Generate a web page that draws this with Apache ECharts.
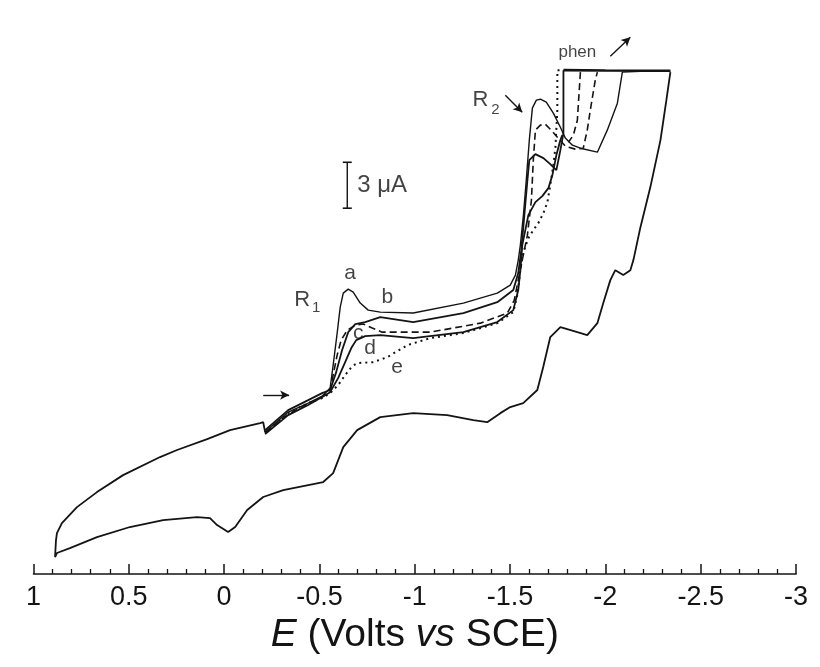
<!DOCTYPE html>
<html>
<head>
<meta charset="utf-8">
<script src="https://cdn.jsdelivr.net/npm/echarts@6/dist/echarts.min.js"></script>
<style>
  html, body { margin: 0; padding: 0; background: #fff; }
  #chart { width: 820px; height: 667px; }
</style>
</head>
<body>
<div id="chart"></div>
<script>
// potential E (V vs SCE), current I (uA, arbitrary zero)
const xTicks = [1, 0.5, 0, -0.5, -1, -1.5, -2, -2.5, -3];

// scan a: R1 peak, big R2 peak, runs into the overload plateau
const scanA = [
  [-0.215, 9.27], [-0.336, 10.58], [-0.441, 11.17], [-0.514, 11.62], [-0.556, 12.15],
  [-0.572, 13.65], [-0.593, 15.74], [-0.609, 17.44], [-0.625, 18.35], [-0.651, 18.61],
  [-0.677, 18.42], [-0.714, 17.70], [-0.756, 17.24], [-0.819, 17.11], [-0.992, 17.05],
  [-1.255, 17.70], [-1.433, 18.35], [-1.501, 18.87], [-1.528, 19.53], [-1.543, 20.51],
  [-1.554, 21.49], [-1.570, 23.45], [-1.585, 25.73], [-1.601, 28.35], [-1.617, 30.44],
  [-1.638, 30.96], [-1.659, 31.02], [-1.690, 30.83], [-1.727, 30.11], [-1.764, 29.19],
  [-1.790, 28.48], [-1.827, 28.02], [-1.869, 27.82], [-1.958, 27.56], [-2.010, 29.00],
  [-2.063, 30.76], [-2.089, 32.79], [-2.184, 32.85], [-2.341, 32.85]
];

// overload plateau where the current is clipped
const plateau = [[-1.780, 32.92], [-2.000, 32.90], [-2.341, 32.88]];

// return sweep of the full scan, back to +0.9 V and round to the start
const scanReturn = [
  [-2.341, 32.79], [-2.320, 30.96], [-2.289, 28.35], [-2.236, 25.28], [-2.184, 22.66],
  [-2.147, 20.51], [-2.131, 19.85], [-2.094, 19.53], [-2.052, 19.85], [-2.026, 19.20],
  [-1.989, 17.70], [-1.958, 16.39], [-1.905, 15.61], [-1.853, 15.80], [-1.764, 16.13],
  [-1.711, 15.48], [-1.674, 13.52], [-1.643, 12.02], [-1.569, 11.17], [-1.501, 10.91],
  [-1.449, 10.51], [-1.380, 9.92], [-1.307, 10.06], [-1.170, 10.38], [-0.992, 10.51],
  [-0.819, 10.25], [-0.698, 9.40], [-0.625, 8.29], [-0.572, 6.59], [-0.520, 6.01],
  [-0.310, 5.48], [-0.205, 5.03], [-0.121, 4.18], [-0.058, 3.07], [-0.021, 2.74],
  [0.037, 3.20], [0.074, 3.65], [0.142, 3.72], [0.320, 3.52], [0.494, 3.07],
  [0.667, 2.41], [0.809, 1.69], [0.877, 1.37], [0.887, 1.11], [0.882, 2.22],
  [0.877, 2.67], [0.851, 3.33], [0.772, 4.37], [0.667, 5.35], [0.530, 6.46],
  [0.336, 7.64], [0.247, 8.10], [0.089, 8.81], [-0.031, 9.40], [-0.189, 9.86],
  [-0.205, 9.92], [-0.215, 9.27]
];

const scanB = [
  [-0.215, 9.40], [-0.336, 10.71], [-0.441, 11.36], [-0.514, 11.82], [-0.556, 12.02],
  [-0.588, 13.19], [-0.619, 14.63], [-0.651, 15.80], [-0.688, 16.33], [-0.740, 16.46],
  [-0.819, 16.78], [-0.992, 16.46], [-1.255, 17.05], [-1.433, 17.76], [-1.517, 18.55],
  [-1.543, 19.66], [-1.559, 21.16], [-1.575, 23.45], [-1.591, 25.73], [-1.601, 27.04],
  [-1.633, 27.43], [-1.675, 27.17], [-1.711, 26.78], [-1.743, 26.39], [-1.764, 27.69],
  [-1.780, 28.80], [-1.780, 32.92]
];

const scanC = [
  [-0.215, 9.21], [-0.336, 10.45], [-0.441, 11.10], [-0.514, 11.55], [-0.556, 12.00],
  [-0.572, 13.00], [-0.593, 14.30], [-0.614, 15.28], [-0.646, 15.93], [-0.688, 16.26],
  [-0.730, 16.33], [-0.777, 16.07], [-0.829, 15.80], [-1.081, 15.80], [-1.344, 16.39],
  [-1.486, 17.05], [-1.522, 17.89], [-1.543, 19.20], [-1.564, 20.51], [-1.591, 22.14],
  [-1.612, 24.43], [-1.622, 27.04], [-1.633, 29.00], [-1.659, 29.33], [-1.685, 29.39],
  [-1.711, 29.06], [-1.748, 28.54], [-1.790, 27.95], [-1.842, 27.76], [-1.884, 27.82],
  [-1.905, 29.00], [-1.921, 30.31], [-1.947, 32.26], [-1.958, 32.79]
];
const scanCBack = [
  [-1.869, 32.79], [-1.863, 31.61], [-1.858, 30.63], [-1.853, 29.65], [-1.832, 28.67],
  [-1.806, 28.21]
];

const scanD = [
  [-0.215, 9.14], [-0.336, 10.38], [-0.441, 11.04], [-0.514, 11.56], [-0.556, 11.88],
  [-0.598, 12.80], [-0.635, 13.84], [-0.667, 14.76], [-0.693, 15.28], [-0.740, 15.54],
  [-0.819, 15.61], [-0.992, 15.41], [-1.255, 15.80], [-1.433, 16.46], [-1.517, 17.24],
  [-1.543, 18.55], [-1.554, 19.85], [-1.564, 21.49], [-1.596, 23.45], [-1.633, 24.30],
  [-1.669, 24.69], [-1.701, 25.21], [-1.722, 26.06], [-1.743, 27.37], [-1.764, 28.35],
  [-1.774, 28.67]
];

// e: free phen, no R1 wave
const scanE = [
  [-0.215, 9.21], [-0.336, 10.51], [-0.441, 11.17], [-0.514, 11.49], [-0.556, 11.82],
  [-0.598, 12.34], [-0.635, 13.00], [-0.672, 13.58], [-0.698, 13.78], [-0.782, 13.84],
  [-0.856, 14.17], [-0.961, 14.95], [-1.081, 15.41], [-1.255, 15.74], [-1.433, 16.39],
  [-1.517, 17.11], [-1.538, 18.22], [-1.554, 19.85], [-1.570, 21.03], [-1.596, 21.94],
  [-1.622, 22.47], [-1.648, 22.92], [-1.675, 23.58], [-1.696, 24.30], [-1.711, 25.41],
  [-1.727, 26.71], [-1.738, 27.89], [-1.748, 30.31], [-1.748, 32.92], [-1.780, 32.92]
];

// text annotations: [E, I, text, fontSize]
const notes = [
  [-0.661, 19.66, 'a', 21], [-0.856, 18.09, 'b', 21], [-0.703, 15.74, 'c', 21],
  [-0.766, 14.76, 'd', 21], [-0.908, 13.52, 'e', 21],
  [-0.409, 17.89, 'R', 22], [-0.483, 17.36, '1', 15],
  [-1.344, 30.96, 'R', 22], [-1.423, 30.31, '2', 15],
  [-1.853, 34.09, 'phen', 17], [-0.829, 25.41, '3 μA', 24]
];

// arrows: [E1, I1, E2, I2]
const arrows = [
  [-0.205, 11.69, -0.341, 11.69],
  [-1.475, 31.28, -1.564, 30.17],
  [-2.026, 33.83, -2.131, 35.07]
];

const scaleBarE = -0.646;
const scaleBarI = [23.9, 26.9];

const font = 'Liberation Sans, Arial, sans-serif';
const ink = '#141414';

function curve(data, width, type) {
  return {
    type: 'line', data: data, showSymbol: false, symbol: 'none',
    lineStyle: { color: ink, width: width, type: type || 'solid' },
    z: 3
  };
}

const chart = echarts.init(document.getElementById('chart'), null, { renderer: 'canvas' });

chart.setOption({
  animation: false,
  backgroundColor: '#fff',
  grid: { left: 33.5, right: 24, top: 23, bottom: 93 },
  xAxis: {
    type: 'value', min: -3, max: 1, interval: 0.5, inverse: true,
    splitLine: { show: false },
    axisLine: { lineStyle: { color: ink, width: 1.6 } },
    axisTick: { inside: true, length: 10, lineStyle: { color: ink, width: 1.5 } },
    minorTick: { show: true, splitNumber: 5, length: 5, lineStyle: { color: ink, width: 1.3 } },
    axisLabel: {
      margin: 10, fontSize: 27, color: ink, fontFamily: font,
      formatter: v => (xTicks.indexOf(v) >= 0 ? String(v) : '')
    },
    name: '{i|E} (Volts {i|vs} SCE)',
    nameLocation: 'middle', nameGap: 36,
    nameTextStyle: {
      fontSize: 39, color: ink, fontFamily: font,
      rich: { i: { fontStyle: 'italic', fontSize: 39, color: ink, fontFamily: font } }
    }
  },
  yAxis: { type: 'value', min: 0, max: 36, show: false, splitLine: { show: false } },
  series: [
    curve(scanA, 1.4),
    curve(scanReturn, 1.8),
    curve(scanB, 1.8),
    curve(scanC, 1.6, [7, 4]),
    curve(scanCBack, 1.6, [7, 4]),
    curve(scanD, 1.8),
    curve(scanE, 2, [2, 4]),
    {
      type: 'line',
      data: scaleBarI.map(v => [scaleBarE, v]),
      symbol: 'rect', symbolSize: [9, 1.6], showSymbol: true,
      itemStyle: { color: ink },
      lineStyle: { color: ink, width: 1.4 }
    },
    {
      type: 'scatter', symbolSize: 0,
      data: notes.map(n => ({
        value: [n[0], n[1]], name: n[2],
        label: { fontSize: n[3] }
      })),
      label: {
        show: true, position: 'inside', color: ink, fontFamily: font,
        formatter: p => p.name
      }
    },
    {
      type: 'line', data: [], symbol: 'none',
      markLine: {
        silent: true, symbol: ['none', 'arrow'], symbolSize: [7, 9],
        label: { show: false },
        lineStyle: { color: ink, width: 1.4, type: 'solid' },
        data: arrows.map(a => [{ coord: [a[0], a[1]] }, { coord: [a[2], a[3]] }])
      }
    },
    curve(plateau, 2.6)
  ]
});
</script>
</body>
</html>
